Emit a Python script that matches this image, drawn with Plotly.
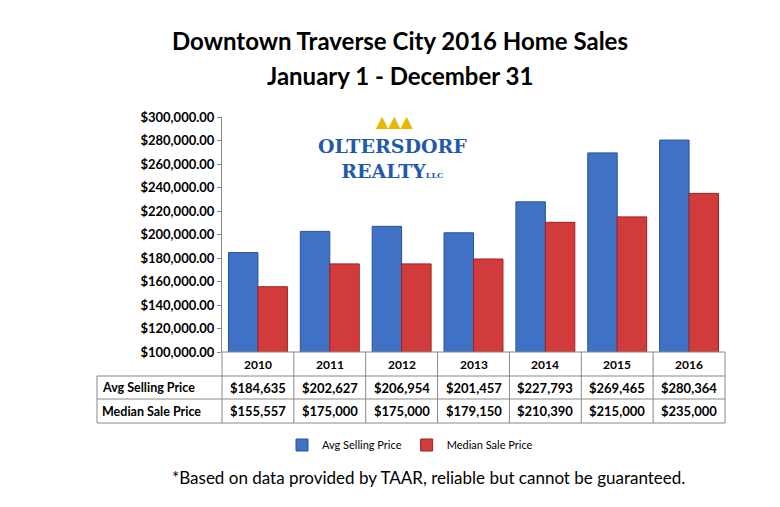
import plotly.graph_objects as go

years = ["2010", "2011", "2012", "2013", "2014", "2015", "2016"]
avg_price = [184635, 202627, 206954, 201457, 227793, 269465, 280364]
median_price = [155557, 175000, 175000, 179150, 210390, 215000, 235000]
row_labels = ["Avg Selling Price", "Median Sale Price"]

F = "Lato"
fig = go.Figure()
fig.add_trace(go.Bar(x=list(range(7)), y=avg_price, name="Avg Selling Price",
                     marker=dict(color="#3f72c4", line=dict(color="#2a5298", width=1))))
fig.add_trace(go.Bar(x=list(range(7)), y=median_price, name="Median Sale Price",
                     marker=dict(color="#d23b3b", line=dict(color="#a02020", width=1))))

OFF = 8  # page body margin
W, H = 780, 507
PL, PR, PT, PB = 222, 725, 117, 352  # plot area in screen pixels
L, T = PL - OFF, PT - OFF
pw, ph = PR - PL, PB - PT
R, B = W - L - pw, H - T - ph
def px(x): return (x - PL) / pw
def py(y): return (PB - y) / ph

shapes = []
rows = [352, 376, 399, 423]
xl = 97
for i, y in enumerate(rows):
    x0 = PL if i == 0 else xl
    shapes.append(dict(type="line", xref="paper", yref="paper", x0=px(x0), x1=1, y0=py(y), y1=py(y), line=dict(color="#888", width=1)))
shapes.append(dict(type="line", xref="paper", yref="paper", x0=px(xl), x1=px(xl), y0=py(376), y1=py(423), line=dict(color="#888", width=1)))
for k in range(8):
    xx = k / 7
    shapes.append(dict(type="line", xref="paper", yref="paper", x0=xx, x1=xx, y0=py(352), y1=py(423), line=dict(color="#888", width=1)))

def A(x, y, text, size, family=F, color="black", xanchor="center"):
    return dict(x=x, y=y, text=text, showarrow=False, xref="paper", yref="paper",
                xanchor=xanchor, yanchor="middle", font=dict(size=size, family=family, color=color))

ann = []
for k, yr in enumerate(years):
    cx = (k + 0.5) / 7
    ann.append(A(cx, py(364), f"<b>{yr}</b>", 12))
    ann.append(A(cx, py(387.5), f"<b>${avg_price[k]:,}</b>", 13))
    ann.append(A(cx, py(411), f"<b>${median_price[k]:,}</b>", 13))
for lab, y in zip(row_labels, [387.5, 411]):
    ann.append(A(px(xl + 3), py(y), f"<b>{lab}</b>", 12.5, xanchor="left"))
ann.append(A(px(400), py(40), "<b>Downtown Traverse City 2016 Home Sales</b>", 24))
ann.append(A(px(400), py(75), "<b>January 1 - December 31</b>", 24))
ann.append(A(px(428), py(477), "*Based on data provided by TAAR, reliable but cannot be guaranteed.", 17))
ann.append(A(px(392), py(158), "<b>OLTERSDORF<br>REALTY<span style='font-size:8px'>LLC</span></b>", 19, family="DejaVu Serif", color="#1f5ba8"))
ann.append(A(px(395), py(121), "▲▲▲", 16, family="DejaVu Sans", color="#e6b800"))

fig.update_layout(
    width=W, height=H, margin=dict(l=L, r=R, t=T, b=B, autoexpand=False),
    paper_bgcolor="white", plot_bgcolor="white",
    barmode="group", bargap=0.18, bargroupgap=0.0,
    shapes=shapes, annotations=ann,
    xaxis=dict(range=[-0.5, 6.5], showticklabels=False, showgrid=False, zeroline=False),
    yaxis=dict(range=[100000, 300000], dtick=20000, tickformat="$,.2f", showgrid=False, zeroline=False,
               showline=True, linecolor="#888", ticks="outside", ticklen=4, tickcolor="#888",
               tickfont=dict(size=13, family=F, color="black", weight="bold")),
    showlegend=True,
    legend=dict(orientation="h", x=px(410), xanchor="center", y=py(445), yanchor="middle",
                font=dict(size=11, family=F, color="black")),
)
fig.write_html("out.html")
